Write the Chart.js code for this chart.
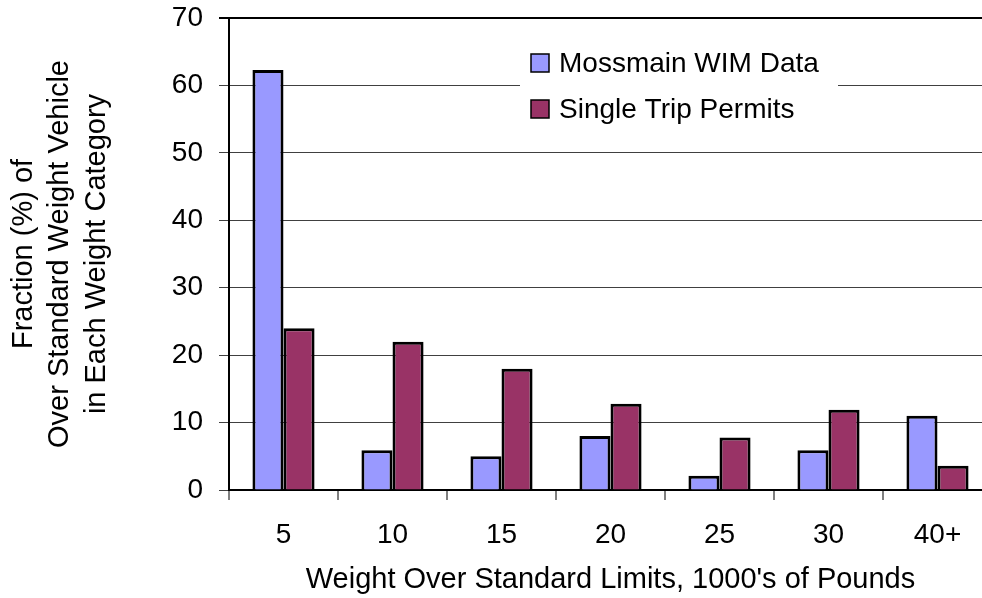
<!DOCTYPE html>
<html>
<head>
<meta charset="utf-8">
<script src="https://cdn.jsdelivr.net/npm/chart.js@4/dist/chart.umd.min.js"></script>
<style>
  html, body { margin:0; padding:0; background:#fff; overflow:hidden; }
  #wrap { width:1000px; height:598px; }
</style>
</head>
<body>
<div id="wrap"><canvas id="chart" width="1000" height="598"></canvas></div>
<script>
// values
const categories = ['5', '10', '15', '20', '25', '30', '40+'];
const wimData = [62.3, 5.9, 5.0, 8.0, 2.1, 5.9, 11.0];
const permitData = [24.0, 22.0, 18.0, 12.8, 7.8, 11.9, 3.6];
const yTicks = [0, 10, 20, 30, 40, 50, 60, 70];

const FONT = '"Liberation Sans", Arial, sans-serif';

// legend drawn in a white box inside the plot, like the original
const boxLegend = {
    id: 'boxLegend',
    afterDraw(chart){
        const ctx = chart.ctx;
        ctx.save();
        ctx.fillStyle = '#fff';
        ctx.fillRect(520, 38, 318, 94);
        ctx.font = '28px ' + FONT;
        ctx.textBaseline = 'middle';
        chart.data.datasets.forEach((ds, i) => {
            const y = 63 + i * 46;
            ctx.fillStyle = ds.backgroundColor;
            ctx.fillRect(531, y - 9, 18, 18);
            ctx.strokeStyle = '#000';
            ctx.lineWidth = 1.5;
            ctx.strokeRect(531, y - 9, 18, 18);
            ctx.fillStyle = '#000';
            ctx.fillText(ds.label, 559, y + 1);
        });
        ctx.restore();
    }
};

new Chart(document.getElementById('chart'), {
    type: 'bar',
    data: {
        labels: categories,
        datasets: [
            { label: 'Mossmain WIM Data', data: wimData, backgroundColor: '#9999FF', borderColor: '#000', borderWidth: 3, borderSkipped: 'start' },
            { label: 'Single Trip Permits', data: permitData, backgroundColor: '#993366', borderColor: '#000', borderWidth: 3, borderSkipped: 'start' }
        ]
    },
    options: {
        responsive: false,
        animation: false,
        layout: { padding: { left: 0, top: 18, right: 8, bottom: 0 } },
        datasets: { bar: { barPercentage: 1, categoryPercentage: 0.57 } },
        plugins: { legend: { display: false }, tooltip: { enabled: false } },
        scales: {
            x: {
                afterFit: s => { s.height = 108; s.paddingLeft = 0; s.paddingRight = 0; },
                grid: { offset: true, drawOnChartArea: false, tickLength: 10, color: '#808080', lineWidth: 2 },
                border: { color: '#000', width: 2 },
                ticks: { color: '#000', font: { family: FONT, size: 28 }, padding: 18 },
                title: {
                    display: true,
                    text: "Weight Over Standard Limits, 1000's of Pounds",
                    color: '#000',
                    font: { family: FONT, size: 29 },
                    padding: { top: 0, bottom: 1 }
                }
            },
            y: {
                min: 0,
                max: 70,
                afterFit: s => { s.width = 229; s.paddingTop = 0; s.paddingBottom = 0; },
                afterBuildTicks: s => { s.ticks = yTicks.map(v => ({ value: v })); },
                grid: {
                    tickLength: 10,
                    color: c => c.tick && c.tick.value === 70 ? '#000' : '#404040',
                    lineWidth: c => c.tick && c.tick.value === 70 ? 2 : 1
                },
                border: { color: '#000', width: 2 },
                ticks: { color: '#000', font: { family: FONT, size: 28 }, padding: 16 },
                title: {
                    display: true,
                    text: ['Fraction (%) of', 'Over Standard Weight Vehicle', 'in Each Weight Category'],
                    color: '#000',
                    font: { family: FONT, size: 29, lineHeight: 1.25 },
                    padding: { top: 6, bottom: 0 }
                }
            }
        }
    },
    plugins: [boxLegend]
});
</script>
</body>
</html>
